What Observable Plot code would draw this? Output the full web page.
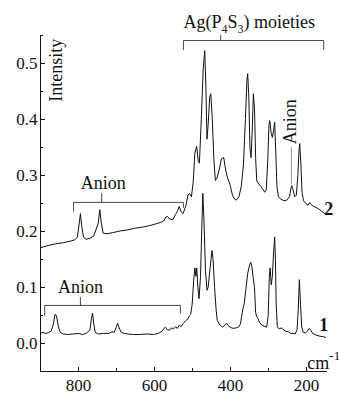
<!DOCTYPE html>
<html><head><meta charset="utf-8">
<script src="https://cdn.jsdelivr.net/npm/d3@7"></script>
<script src="https://cdn.jsdelivr.net/npm/@observablehq/plot@0.6"></script>
<style>body{margin:0;background:#fff} svg, svg text{font-family:"Liberation Serif","Times New Roman",serif !important}</style>
</head><body><div id="chart"></div>
<script>
// Raman spectra: [wavenumber (cm-1), intensity]
const spectrum2 = [
[900,0.171],[880,0.175],[860,0.178],[840,0.180],[820,0.183],[810,0.185],[803,0.190],[798,0.215],[795,0.232],[792,0.212],[787,0.190],[780,0.186],[770,0.188],[760,0.192],[748,0.215],[744,0.239],[740,0.215],[735,0.197],[725,0.196],[710,0.198],[690,0.201],[670,0.203],[650,0.206],[630,0.208],[610,0.211],[595,0.214],[585,0.216],[576,0.219],[570,0.226],[566,0.227],[560,0.222],[552,0.221],[545,0.230],[540,0.236],[535,0.245],[530,0.235],[525,0.232],[518,0.245],[512,0.265],[508,0.268],[503,0.262],[498,0.29],[494,0.34],[489,0.352],[485,0.325],[482,0.322],[477,0.40],[472,0.49],[468,0.523],[465,0.46],[462,0.365],[459,0.39],[455,0.44],[452,0.446],[448,0.40],[444,0.33],[440,0.291],[436,0.295],[430,0.31],[424,0.33],[418,0.332],[413,0.31],[408,0.296],[402,0.285],[395,0.265],[390,0.258],[385,0.256],[378,0.262],[372,0.28],[366,0.32],[361,0.40],[357,0.470],[355,0.482],[352,0.44],[349,0.35],[346,0.332],[343,0.38],[340,0.446],[337,0.42],[334,0.33],[331,0.29],[326,0.285],[320,0.28],[315,0.275],[310,0.27],[306,0.275],[302,0.33],[299,0.39],[297,0.398],[293,0.375],[290,0.368],[287,0.38],[284,0.395],[281,0.34],[278,0.28],[274,0.262],[268,0.258],[260,0.255],[252,0.256],[245,0.262],[241,0.278],[239,0.282],[236,0.275],[231,0.262],[227,0.265],[223,0.30],[220,0.345],[218,0.357],[215,0.32],[212,0.27],[208,0.255],[202,0.250],[196,0.247],[192,0.252],[188,0.248],[182,0.245],[175,0.243],[168,0.240],[160,0.236],[152,0.232],[148,0.230]
];
const spectrum1 = [
[900,0.018],[893,0.020],[888,0.018],[880,0.019],[872,0.022],[866,0.035],[862,0.052],[858,0.050],[853,0.030],[848,0.020],[840,0.017],[829,0.016],[815,0.017],[800,0.018],[790,0.016],[780,0.018],[770,0.024],[766,0.045],[763,0.054],[760,0.035],[756,0.020],[748,0.017],[734,0.018],[720,0.018],[712,0.021],[706,0.020],[700,0.030],[697,0.036],[693,0.028],[688,0.020],[680,0.018],[670,0.017],[655,0.016],[640,0.016],[620,0.017],[603,0.016],[590,0.018],[580,0.022],[575,0.027],[571,0.029],[566,0.024],[560,0.024],[555,0.028],[550,0.026],[545,0.030],[540,0.027],[535,0.033],[530,0.030],[524,0.036],[518,0.041],[512,0.044],[508,0.050],[505,0.052],[501,0.070],[497,0.113],[494,0.135],[491,0.120],[489,0.135],[486,0.100],[483,0.080],[479,0.120],[476,0.200],[473,0.268],[470,0.220],[466,0.130],[462,0.095],[459,0.100],[453,0.140],[449,0.166],[446,0.150],[442,0.100],[438,0.060],[435,0.041],[428,0.033],[421,0.029],[414,0.034],[410,0.036],[405,0.031],[398,0.028],[392,0.027],[385,0.028],[378,0.030],[374,0.035],[368,0.060],[364,0.072],[360,0.095],[355,0.125],[350,0.140],[347,0.145],[344,0.138],[340,0.115],[337,0.100],[334,0.055],[331,0.048],[328,0.045],[324,0.038],[318,0.033],[312,0.031],[305,0.029],[301,0.050],[298,0.120],[296,0.135],[293,0.105],[290,0.120],[287,0.160],[284,0.190],[282,0.150],[280,0.070],[277,0.030],[272,0.026],[266,0.028],[262,0.025],[255,0.022],[248,0.021],[242,0.018],[236,0.018],[230,0.017],[225,0.025],[222,0.060],[219,0.114],[216,0.070],[213,0.030],[209,0.020],[203,0.019],[198,0.022],[193,0.027],[189,0.024],[184,0.018],[175,0.015],[165,0.013],[155,0.012],[150,0.011]
];
const xDomain = [900, 145];
const yDomain = [-0.05, 0.55];
const xMajorTicks = [800, 600, 400, 200];
const xMinorTicks = [700, 500, 300];
const yMajorTicks = [0.0, 0.1, 0.2, 0.3, 0.4, 0.5];
const yMinorTicks = [0.05, 0.15, 0.25, 0.35, 0.45, 0.55];
// annotation brackets [wavenumber, intensity]
const bracketMoieties = [[524,0.525],[524,0.541],[155,0.541],[155,0.525]];
const tickMoieties = [[426,0.541],[426,0.55]];
const bracketAnion2 = [[813,0.236],[813,0.252],[524,0.252],[524,0.243]];
const tickAnion2 = [[739,0.252],[739,0.268]];
const bracketAnion1 = [[889,0.050],[889,0.068],[532,0.068],[532,0.054]];
const tickAnion1 = [[795,0.068],[795,0.082]];
const pointerAnion = [[240,0.286],[240,0.350]];
const labels = [
  {text:"Anion", x:735, y:0.276},
  {text:"Anion", x:795, y:0.090}
];
const W = 339, H = 396, mL = 40, mR = 12, mT = 35, mB = 25;
const fw = W - mL - mR, fh = H - mT - mB;
const FONT = "Liberation Serif";
const pxy = d => d;
const chart = Plot.plot({
  width: W, height: H,
  marginLeft: mL, marginRight: mR, marginTop: mT, marginBottom: mB,
  style: {fontFamily: FONT, background: "#fff", color: "#111"},
  x: {domain: xDomain},
  y: {domain: yDomain},
  marks: [
    Plot.ruleX([xDomain[0]], {stroke: "#111", strokeWidth: 1}),
    Plot.ruleY([yDomain[0]], {stroke: "#111", strokeWidth: 1}),
    Plot.tickY(yMajorTicks, {y: pxy, insetRight: fw - 5, stroke: "#111"}),
    Plot.tickY(yMinorTicks, {y: pxy, insetRight: fw - 3, stroke: "#111"}),
    Plot.tickX(xMajorTicks, {x: pxy, insetTop: fh - 4, stroke: "#111"}),
    Plot.tickX(xMinorTicks, {x: pxy, insetTop: fh - 3, stroke: "#111"}),
    Plot.axisY({ticks: yMajorTicks, tickFormat: d3.format(".1f"), tickSize: 0, tickPadding: 3, fontSize: 17, fontFamily: FONT, label: null}),
    Plot.axisX({ticks: xMajorTicks, tickFormat: d => String(d), tickSize: 0, tickPadding: 7, fontSize: 17, fontFamily: FONT, label: null}),
    Plot.line(spectrum2, {x: d => d[0], y: d => d[1], stroke: "#111", strokeWidth: 1}),
    Plot.line(spectrum1, {x: d => d[0], y: d => d[1], stroke: "#111", strokeWidth: 1}),
    ...[bracketMoieties, tickMoieties, bracketAnion2, tickAnion2, bracketAnion1, tickAnion1].map(b =>
      Plot.line(b, {x: d => d[0], y: d => d[1], stroke: "#333", strokeWidth: 0.9})),
    Plot.line(pointerAnion, {x: d => d[0], y: d => d[1], stroke: "#888", strokeWidth: 0.9}),
    Plot.text(labels, {x: "x", y: "y", text: "text", fontSize: 18, fontFamily: FONT, lineAnchor: "bottom", fill: "#111"}),
    Plot.text(["Anion"], {x: 242, y: 0.396, text: d => d, rotate: -90, fontSize: 18, fontFamily: FONT, fill: "#111"}),
    Plot.text(["Intensity"], {x: 858, y: 0.488, text: d => d, rotate: -90, fontSize: 18, fontFamily: FONT, fill: "#111"}),
    Plot.text(["Ag(P4S3) moieties"], {x: 524, y: 0.564, text: d => d, textAnchor: "start", lineAnchor: "bottom", fontSize: 18, fontFamily: FONT, fill: "#111"}),
    Plot.text(["2"], {x: 142, y: 0.229, text: d => d, lineAnchor: "bottom", fontSize: 18, fontFamily: FONT, fontWeight: "bold", fill: "#111"}),
    Plot.text(["1"], {x: 155, y: 0.023, text: d => d, lineAnchor: "bottom", fontSize: 18, fontFamily: FONT, fontWeight: "bold", fill: "#111"}),
    Plot.text(["cm-1"], {x: 198, y: -0.046, text: d => d, textAnchor: "start", lineAnchor: "bottom", fontSize: 18, fontFamily: FONT, fill: "#111"})
  ]
});
// rich text: subscripts / superscript
chart.querySelectorAll("text").forEach(t => {
  const s = t.textContent;
  if (s === "Ag(P4S3) moieties") {
    t.textContent = "";
    const parts = [["Ag(P",0],["4",1],["S",-1],["3",1],[") moieties",-1]];
    parts.forEach(([str, k]) => {
      const sp = document.createElementNS("http://www.w3.org/2000/svg", "tspan");
      sp.textContent = str;
      if (k === 1) { sp.setAttribute("dy", "5"); sp.setAttribute("font-size", "12"); }
      if (k === -1) sp.setAttribute("dy", "-5");
      t.appendChild(sp);
    });
  } else if (s === "cm-1") {
    t.textContent = "";
    const a = document.createElementNS("http://www.w3.org/2000/svg", "tspan");
    a.textContent = "cm";
    const b = document.createElementNS("http://www.w3.org/2000/svg", "tspan");
    b.textContent = "-1"; b.setAttribute("dy", "-9"); b.setAttribute("font-size", "13");
    t.appendChild(a); t.appendChild(b);
  }
});
document.getElementById("chart").appendChild(chart);
</script>
</body></html>
